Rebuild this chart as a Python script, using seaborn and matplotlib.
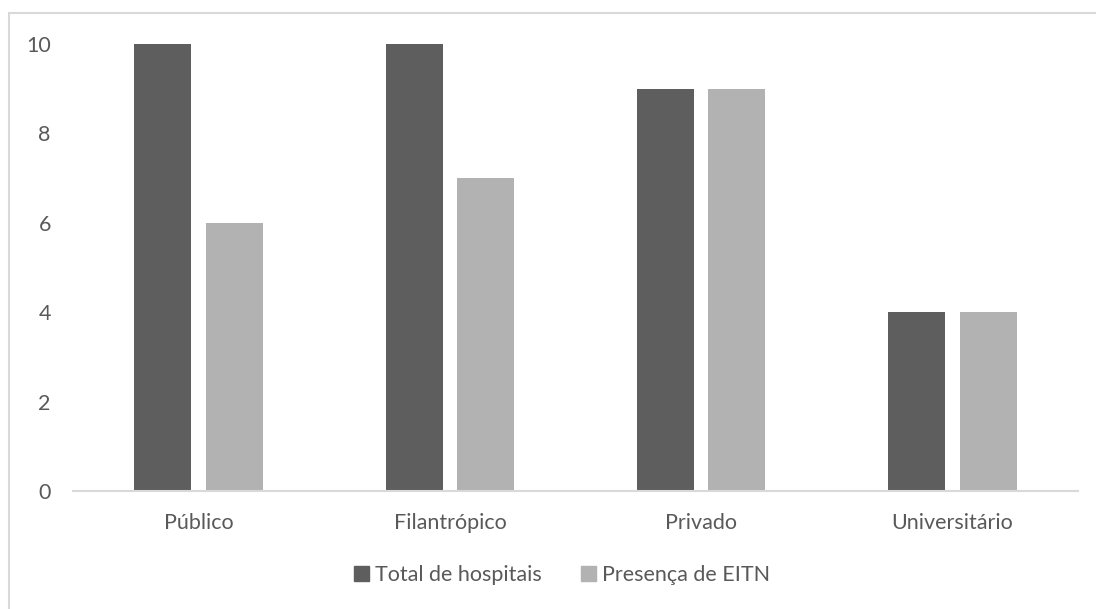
import matplotlib
matplotlib.use("Agg")
import matplotlib.pyplot as plt
import matplotlib.patches as mpatches
import seaborn as sns
import pandas as pd

# Hospital categories and counts
categorias = ["Público", "Filantrópico", "Privado", "Universitário"]
total_hospitais = [10, 10, 9, 4]
presenca_eitn = [6, 7, 9, 4]
series = ["Total de hospitais", "Presença de EITN"]
yticks = [0, 2, 4, 6, 8, 10]

df = pd.DataFrame({
    "categoria": categorias * 2,
    "valor": total_hospitais + presenca_eitn,
    "serie": [series[0]] * len(categorias) + [series[1]] * len(categorias),
})

sns.set_theme(style="white")
plt.rcParams["font.family"] = ["Lato", "DejaVu Sans"]
text_color = "#595959"
cores = {series[0]: "#5E5E5E", series[1]: "#B2B2B2"}
fs = 15.5

fig = plt.figure(figsize=(10.96, 6.09), dpi=100)
W, H = 1096, 609
ax = fig.add_axes([73 / W, 1 - 491 / H, (1078 - 73) / W, (491 - 44) / H])

sns.barplot(data=df, x="categoria", y="valor", hue="serie", palette=cores,
            width=0.569, gap=0.2, ax=ax, saturation=1, legend=False,
            edgecolor="none", linewidth=0)

ax.set_xlim(-0.5, len(categorias) - 0.5)
ax.set_ylim(0, 10)
ax.set_yticks(yticks)
ax.set_xlabel("")
ax.set_ylabel("")
for s in ["top", "right", "left"]:
    ax.spines[s].set_visible(False)
ax.spines["bottom"].set_color("#D9D9D9")
ax.spines["bottom"].set_linewidth(1.5)
ax.tick_params(axis="both", length=0, labelsize=fs, colors=text_color)
ax.tick_params(axis="y", pad=16)
ax.tick_params(axis="x", pad=16)

handles = [mpatches.Patch(color=cores[s], label=s) for s in series]
leg = fig.legend(handles=handles, loc="center", bbox_to_anchor=(562 / W, 1 - 575 / H),
                 ncol=2, frameon=False, fontsize=fs, handlelength=0.7,
                 handleheight=0.7, handletextpad=0.3, columnspacing=1.8)
for t in leg.get_texts():
    t.set_color(text_color)

# Chart area border
fig.patches.append(mpatches.Rectangle((9 / W, -0.1), 1.2, 1.1 - 13 / H,
                                      transform=fig.transFigure, fill=False,
                                      edgecolor="#D9D9D9", linewidth=1.5))

fig.savefig("out.png", dpi=100)
